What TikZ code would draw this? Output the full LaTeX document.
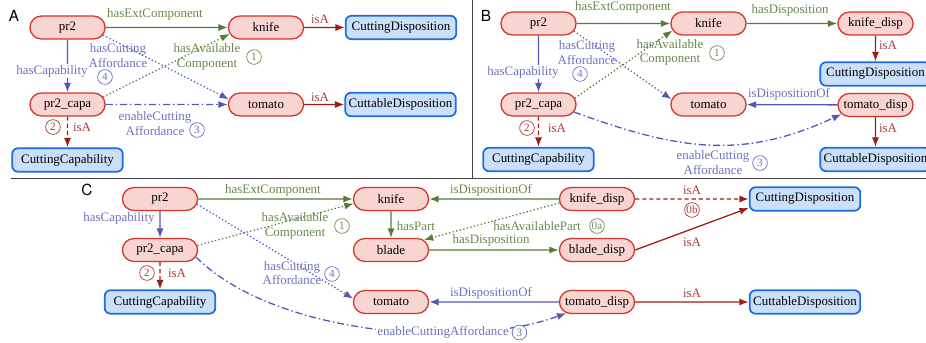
\documentclass[tikz,border=0pt]{standalone}
\usepackage{fontspec}
\setmainfont{Liberation Serif}
\setsansfont{TeX Gyre Heros}
\usetikzlibrary{arrows.meta,shapes.misc,positioning}

\definecolor{instfill}{HTML}{F8D5D1}
\definecolor{instdraw}{HTML}{D2352B}
\definecolor{clsfill}{HTML}{CADFF9}
\definecolor{clsdraw}{HTML}{1D6CE0}
\definecolor{compgreen}{HTML}{577A37}
\definecolor{affblue}{HTML}{5557B5}
\definecolor{isared}{HTML}{9E1C12}
\definecolor{sepgray}{HTML}{444444}

\tikzstyle{inst}=[
    rounded rectangle,
    draw=instdraw,
    fill=instfill,
    line width=1.1pt,
    minimum height=19.5pt,
    minimum width=70.5pt,
  ]
\tikzstyle{cls}=[
    rectangle,
    rounded corners=5pt,
    draw=clsdraw,
    fill=clsfill,
    line width=1.5pt,
    minimum height=20pt,
    minimum width=94pt,
    inner xsep=1.5pt,
  ]
\tikzstyle{rel}=[
    -{Latex[length=8pt,width=6pt]},
    line width=1.1pt,
  ]
\tikzstyle{comp}=[rel, compgreen]
\tikzstyle{aff}=[rel, affblue]
\tikzstyle{isa}=[rel, isared]
\tikzstyle{dashdot}=[dash pattern=on 6pt off 2.5pt on 1.2pt off 2.5pt]
\tikzstyle{isadash}=[dash pattern=on 3.5pt off 2.5pt]
\tikzstyle{glab}=[text=compgreen!90!white, inner sep=1pt, align=center]
\tikzstyle{blab}=[text=affblue!85!white, inner sep=1pt, align=center]
\tikzstyle{rlab}=[text=isared!85!white, inner sep=1pt, align=center]
\tikzstyle{num}=[
    circle,
    draw,
    line width=0.6pt,
    inner sep=0pt,
    minimum size=12.5pt,
    font=\fontsize{9.5}{10}\selectfont,
  ]
\tikzstyle{panel}=[font=\sffamily\fontsize{13}{15}\selectfont, inner sep=0pt]
\tikzstyle{sep}=[sepgray, line width=0.8pt]

\begin{document}
\begin{tikzpicture}[x=0.85pt, y=-0.85pt, font=\fontsize{11}{12.5}\selectfont]
  \useasboundingbox (0,0) rectangle (926,343);
  \draw[sep] (472,0) -- (472,178);
  \draw[sep] (11,178) -- (926,178);

  % A
  \node[panel] (labA) at (14,15.5) {A};
  \node[inst] (pr2A) at (67.5,27.5) {pr2};
  \node[inst] (knifeA) at (266,27.5) {knife};
  \node[cls] (cdispA) at (401,27.5) {CuttingDisposition};
  \node[inst] (capaA) at (67.5,104.5) {pr2\_capa};
  \node[inst] (tomatoA) at (266,104.5) {tomato};
  \node[cls] (ctdispA) at (400.5,104.5) {CuttableDisposition};
  \node[cls] (ccapA) at (67.5,160) {CuttingCapability};

  \draw[comp] (pr2A) -- (knifeA);
  \draw[isa] (knifeA) -- (cdispA);
  \draw[aff] (pr2A) -- (capaA);
  \draw[aff, dotted] (pr2A.-12) -- (tomatoA.172);
  \draw[comp, dotted] (capaA.12) -- (knifeA.190);
  \draw[aff, dashdot] (capaA) -- (tomatoA);
  \draw[isa] (tomatoA) -- (ctdispA);
  \draw[isa, isadash] (capaA) -- (ccapA);

  \node[glab] (hecA) at (155,14) {hasExtComponent};
  \node[rlab] (isaA1) at (320,19) {isA};
  \node[blab, fill=white] (hcapA) at (52,71) {hasCapability};
  \node[blab] (hcaA) at (118,55.5) {hasCutting\\Affordance};
  \node[glab] (hacA) at (207,57) {hasAvailable\\Component};
  \node[blab] (ecaA) at (155,123.5) {enableCutting\\Affordance};
  \node[rlab] (isaA2) at (320,97) {isA};
  \node[rlab] (isaA3) at (82,127) {isA};

  % B
  \node[panel] (labB) at (486,15.5) {B};
  \node[inst] (pr2B) at (538.5,23.5) {pr2};
  \node[inst] (knifeB) at (708.5,23.5) {knife};
  \node[inst] (kdispB) at (875.5,23.5) {knife\_disp};
  \node[cls] (cdispB) at (875.5,74) {CuttingDisposition};
  \node[inst] (capaB) at (538.5,104.5) {pr2\_capa};
  \node[inst] (tomatoB) at (708.5,104.5) {tomato};
  \node[inst] (tdispB) at (875.5,105) {tomato\_disp};
  \node[cls] (ctdispB) at (875.5,159.5) {CuttableDisposition};
  \node[cls] (ccapB) at (538.5,159.5) {CuttingCapability};

  \draw[comp] (pr2B) -- (knifeB);
  \draw[comp] (knifeB) -- (kdispB);
  \draw[isa] (kdispB) -- (cdispB);
  \draw[aff] (pr2B) -- (capaB);
  \draw[aff, dotted] (pr2B.-12) -- (tomatoB.172);
  \draw[comp, dotted] (capaB.10) -- (knifeB.191);
  \draw[aff] (tdispB) -- (tomatoB);
  \draw[aff, dashdot] (capaB.-12) to[out=-20, in=205, looseness=1.05] (tdispB.195);
  \draw[isa] (tdispB) -- (ctdispB);
  \draw[isa, isadash] (capaB) -- (ccapB);

  \node[glab] (hecB) at (623,7) {hasExtComponent};
  \node[glab] (hdB) at (790,10) {hasDisposition};
  \node[rlab] (isaB1) at (888,45) {isA};
  \node[blab, fill=white] (hcapB) at (523,72) {hasCapability};
  \node[blab] (hcaB) at (587,52.5) {hasCutting\\Affordance};
  \node[glab] (hacB) at (670,52.5) {hasAvailable\\Component};
  \node[blab] (idoB) at (789,94) {isDispositionOf};
  \node[rlab] (isaB2) at (888,128) {isA};
  \node[blab] (ecaB) at (713,162.5) {enableCutting\\Affordance};
  \node[rlab] (isaB3) at (557,128) {isA};

  % C
  \node[panel] (labC) at (87,190) {C};
  \node[inst] (pr2C) at (160,199) {pr2};
  \node[inst] (knifeC) at (391,199) {knife};
  \node[inst] (kdispC) at (597,199) {knife\_disp};
  \node[cls] (cdispC) at (805,199) {CuttingDisposition};
  \node[inst] (capaC) at (160,250) {pr2\_capa};
  \node[inst] (bladeC) at (391,250) {blade};
  \node[inst] (bdispC) at (597,250) {blade\_disp};
  \node[cls] (ccapC) at (160,302) {CuttingCapability};
  \node[inst] (tomatoC) at (391,302) {tomato};
  \node[inst] (tdispC) at (597,302) {tomato\_disp};
  \node[cls] (ctdispC) at (805,302) {CuttableDisposition};

  \draw[comp] (pr2C) -- (knifeC);
  \draw[comp] (kdispC) -- (knifeC);
  \draw[isa, isadash] (kdispC) -- (cdispC);
  \draw[comp] (knifeC) -- (bladeC);
  \draw[comp, dotted] (kdispC.186) -- (bladeC.17);
  \draw[comp] (bladeC) -- (bdispC);
  \draw[isa] (bdispC.east) -- (cdispC.189);
  \draw[aff] (pr2C) -- (capaC);
  \draw[comp, dotted] (capaC.7) -- (knifeC.187);
  \draw[aff, dotted] (pr2C.-8) -- (tomatoC.175);
  \draw[isa, isadash] (capaC) -- (ccapC);
  \draw[aff] (tdispC) -- (tomatoC);
  \draw[isa] (tdispC) -- (ctdispC);
  \draw[aff, dashdot] (capaC.-11) to[out=-45, in=200, looseness=0.75]
    node[blab, fill=white, pos=0.67] (ecaC) {enableCuttingAffordance} (tdispC.200);

  \node[glab] (hecC) at (273,190) {hasExtComponent};
  \node[glab] (idoC1) at (491,190) {isDispositionOf};
  \node[rlab] (isaC1) at (692,190) {isA};
  \node[glab] (hpC) at (416,226) {hasPart};
  \node[glab] (hapC) at (537,226) {hasAvailablePart};
  \node[glab] (hdC) at (491,240) {hasDisposition};
  \node[rlab] (isaC2) at (692,242) {isA};
  \node[blab] (hcapC) at (119,218) {hasCapability};
  \node[glab] (hacC) at (295,226) {hasAvailable\\Component};
  \node[blab] (hcaC) at (292,273) {hasCutting\\Affordance};
  \node[rlab] (isaC3) at (177,273) {isA};
  \node[blab] (idoC2) at (491,293) {isDispositionOf};
  \node[rlab] (isaC4) at (692,293) {isA};

  % circled step numbers
  \foreach \nm/\x/\y/\t/\c in {
      nA4/105/77/4/affblue, nA1/254/57/1/compgreen,
      nA3/197/130/3/affblue, nA2/53/127/2/isared,
      nB4/580/74/4/affblue, nB1/717/53/1/compgreen,
      nB3/760/163/3/affblue, nB2/527/128/2/isared,
      nC0b/692/210/0b/isared, nC0a/597/226/0a/compgreen,
      nC1/342/226/1/compgreen, nC4/332/274/4/affblue,
      nC2/147/273/2/isared} {
    \node[num, draw=\c!85!white, text=\c!85!white] (\nm) at (\x,\y) {\t};
  }
  \node[num, draw=affblue!85!white, text=affblue!85!white, fill=white,
    right=1pt of ecaC] (nC3) {3};
\end{tikzpicture}
\end{document}
